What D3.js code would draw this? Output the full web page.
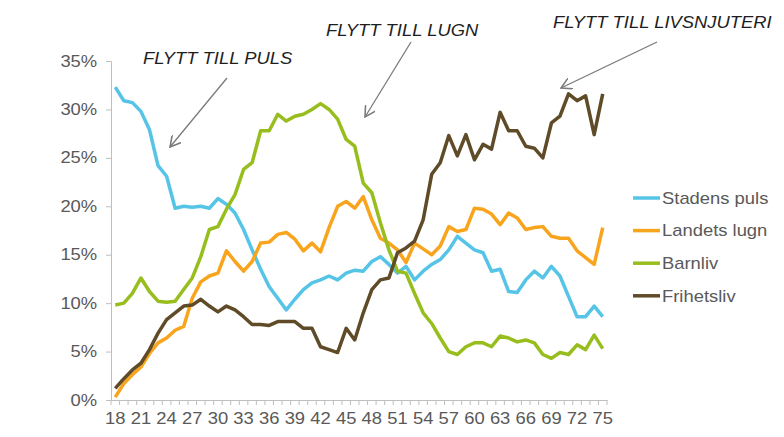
<!DOCTYPE html>
<html>
<head>
<meta charset="utf-8">
<script src="https://cdn.jsdelivr.net/npm/d3@7"></script>
<style>
  body { margin: 0; background: #fff; }
  text { font-family: "Liberation Sans", Arial, sans-serif; }
</style>
</head>
<body>
<div id="plot"></div>
<script>
// ages on the x axis
var ages = d3.range(18, 76)
var yTicks = [0, 5, 10, 15, 20, 25, 30, 35]

// series values (%)
var stadensPuls = [32.3, 30.9, 30.7, 29.8, 27.9, 24.2, 23.1, 19.8, 20.0, 19.9,
  20.0, 19.8, 20.8, 20.2, 19.3, 17.6, 15.5, 13.5, 11.7, 10.5,
  9.3, 10.4, 11.4, 12.1, 12.4, 12.8, 12.4, 13.1, 13.4, 13.3,
  14.3, 14.8, 14.0, 13.1, 13.8, 12.4, 13.3, 14.0, 14.5, 15.5,
  16.9, 16.2, 15.5, 15.2, 13.3, 13.5, 11.2, 11.1, 12.4, 13.3,
  12.6, 13.8, 12.8, 10.7, 8.6, 8.6, 9.7, 8.6]
var landetsLugn = [0.3, 1.7, 2.6, 3.4, 4.8, 5.9, 6.4, 7.2, 7.6, 10.5,
  12.2, 12.8, 13.1, 15.4, 14.3, 13.3, 14.3, 16.2, 16.3, 17.1,
  17.3, 16.6, 15.4, 16.2, 15.3, 17.8, 20.0, 20.5, 19.8, 21.0,
  18.6, 16.7, 16.2, 15.5, 14.2, 16.2, 15.6, 15.0, 15.9, 17.9,
  17.4, 17.6, 19.8, 19.7, 19.2, 18.1, 19.3, 18.8, 17.6, 17.8,
  17.9, 16.9, 16.7, 16.7, 15.4, 14.7, 14.0, 17.8]
var barnliv = [9.8, 10.0, 11.0, 12.6, 11.2, 10.2, 10.1, 10.2, 11.4, 12.6,
  14.8, 17.6, 17.9, 19.7, 21.2, 23.8, 24.5, 27.8, 27.8, 29.5,
  28.8, 29.3, 29.5, 30.0, 30.6, 30.0, 29.0, 26.9, 26.2, 22.4,
  21.4, 18.3, 15.5, 13.3, 13.1, 11.0, 9.0, 7.9, 6.4, 5.0,
  4.7, 5.5, 5.9, 5.9, 5.5, 6.6, 6.4, 6.0, 6.2, 5.9,
  4.7, 4.3, 4.9, 4.7, 5.7, 5.2, 6.7, 5.3]
var frihetsliv = [1.2, 2.2, 3.1, 3.8, 5.2, 6.9, 8.3, 9.0, 9.7, 9.8,
  10.4, 9.7, 9.1, 9.7, 9.3, 8.6, 7.8, 7.8, 7.7, 8.1,
  8.1, 8.1, 7.4, 7.4, 5.5, 5.2, 4.9, 7.4, 6.2, 9.0,
  11.4, 12.4, 12.6, 15.2, 15.7, 16.4, 18.6, 23.3, 24.5, 27.3,
  25.2, 27.4, 24.8, 26.4, 25.9, 29.7, 27.8, 27.8, 26.2, 26.0,
  25.0, 28.6, 29.3, 31.6, 30.9, 31.4, 27.4, 31.6]

var seriesNames = ["Stadens puls", "Landets lugn", "Barnliv", "Frihetsliv"]
var seriesColors = ["#55c4e6", "#f8a41c", "#98be1e", "#5f4b27"]
var seriesValues = [stadensPuls, landetsLugn, barnliv, frihetsliv]

var svgWidth = 784
var svgHeight = 437
var stretch = "scale(1.15,1)"

var svg = d3.select("#plot")
  .append("svg")
  .attr("width", svgWidth)
  .attr("height", svgHeight)

svg.append("rect")
  .attr("width", svgWidth)
  .attr("height", svgHeight)
  .attr("fill", "#fff")

// scales
var x = d3.scaleBand()
  .domain(ages)
  .range([111, 607])
var y = d3.scaleLinear()
  .domain([0, 35])
  .range([400, 61])

// y axis
var yAxis = svg.append("g")
  .attr("transform", "translate(111,0)")
  .call(d3.axisLeft(y).tickValues(yTicks).tickFormat(d => d + "%").tickSize(5).tickPadding(7))
yAxis.select(".domain").attr("stroke", "#bfbfbf")
yAxis.selectAll(".tick line").attr("stroke", "#bfbfbf")
yAxis.selectAll(".tick text")
  .attr("fill", "#595959")
  .style("font-size", "16px")
  .attr("transform", stretch)

// x axis: labels every third year, ticks at every category boundary
var xAxis = svg.append("g")
  .attr("transform", "translate(0,400)")
  .call(d3.axisBottom(x).tickValues(ages.filter(a => (a - 18) % 3 == 0)).tickSize(0).tickPadding(13))
xAxis.select(".domain").attr("stroke", "#bfbfbf")
xAxis.selectAll(".tick text")
  .attr("fill", "#595959")
  .style("font-size", "16px")
  .attr("transform", stretch)

var bounds = ages.map(a => x(a)).concat([x.range()[1]])
svg.append("g").selectAll("line")
  .data(bounds)
  .enter()
  .append("line")
  .attr("x1", d => d).attr("x2", d => d)
  .attr("y1", 400).attr("y2", 405)
  .attr("stroke", "#bfbfbf")

// lines
var line = d3.line()
  .x((d, i) => x(ages[i]) + x.bandwidth() / 2)
  .y(d => y(d))

svg.append("g").selectAll("path")
  .data(seriesValues)
  .enter()
  .append("path")
  .attr("d", d => line(d))
  .attr("fill", "none")
  .attr("stroke", (d, i) => seriesColors[i])
  .attr("stroke-width", 3.5)
  .attr("stroke-linejoin", "round")

// legend
var legend = svg.append("g").selectAll("g")
  .data(seriesNames)
  .enter()
  .append("g")
  .attr("transform", (d, i) => `translate(633, ${198 + i * 32.6})`)
legend.append("line")
  .attr("x1", 0).attr("x2", 27)
  .attr("stroke", (d, i) => seriesColors[i])
  .attr("stroke-width", 3.5)
legend.append("text")
  .attr("transform", "translate(29,0) " + stretch)
  .attr("dy", "0.36em")
  .attr("fill", "#595959")
  .style("font-size", "16px")
  .text(d => d)

// annotations with arrows
svg.append("defs").append("marker")
  .attr("id", "head")
  .attr("viewBox", "0 0 10 10")
  .attr("refX", 9).attr("refY", 5)
  .attr("markerWidth", 12).attr("markerHeight", 12)
  .attr("markerUnits", "userSpaceOnUse")
  .attr("orient", "auto")
  .append("path")
  .attr("d", "M0,0 L9,5 L0,10")
  .attr("fill", "none")
  .attr("stroke", "#7a7a7a")
  .attr("stroke-width", 1.3)

var notes = [
  { text: "FLYTT TILL PULS", tx: 143, ty: 64, from: [227, 78], to: [170, 147] },
  { text: "FLYTT TILL LUGN", tx: 326, ty: 36, from: [411, 42], to: [365, 117] },
  { text: "FLYTT TILL LIVSNJUTERI", tx: 553, ty: 28, from: [657, 42], to: [561, 88] }
]

svg.append("g").selectAll("line")
  .data(notes)
  .enter()
  .append("line")
  .attr("x1", d => d.from[0]).attr("y1", d => d.from[1])
  .attr("x2", d => d.to[0]).attr("y2", d => d.to[1])
  .attr("stroke", "#7a7a7a")
  .attr("stroke-width", 1.3)
  .attr("marker-end", "url(#head)")

svg.append("g").selectAll("text")
  .data(notes)
  .enter()
  .append("text")
  .attr("transform", d => `translate(${d.tx}, ${d.ty}) ${stretch}`)
  .attr("fill", "#1e1e1e")
  .style("font-size", "16px")
  .style("font-style", "italic")
  .text(d => d.text)
</script>
</body>
</html>
